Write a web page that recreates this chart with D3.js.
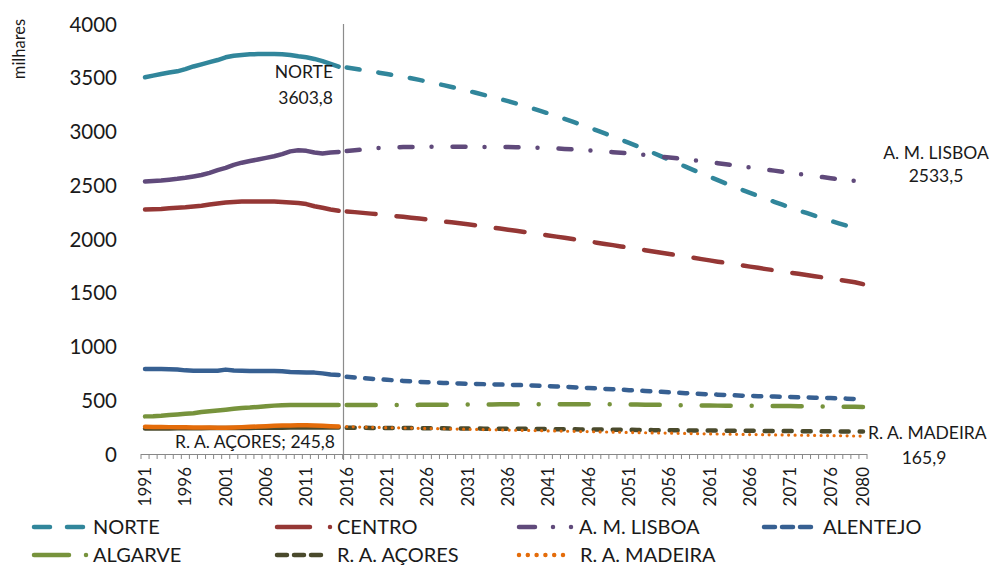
<!DOCTYPE html>
<html><head><meta charset="utf-8">
<script src="https://cdn.jsdelivr.net/npm/d3@7"></script>
<style>
html,body{margin:0;padding:0;background:#fff;}
svg text{font-family:Lato,"Open Sans",sans-serif;fill:#1a1a1a;}
</style></head>
<body><svg id="chart" width="994" height="566"></svg>
<script>
// ---- categories ----
const years = d3.range(1991, 2081);
const firstProjYear = 2016;
const yTicks = [0, 500, 1000, 1500, 2000, 2500, 3000, 3500, 4000];
const xTickLabels = [1991,1996,2001,2006,2011,2016,2021,2026,2031,2036,2041,2046,2051,2056,2061,2066,2071,2076,2080];

// ---- series values (thousands), 1991..2080 ----
const norte = [3505,3520,3535,3548,3560,3580,3605,3625,3645,3665,3690,3705,3712,3718,3720,3720,3720,3718,3712,3700,3690,3675,3655,3630,3603.8,
 3595,3583,3571,3559,3547,3535,3522,3509,3495,3480,3464,3448,3431,3414,3397,3379,3360,3341,3322,3302,3282,3260,3238,3215,3192,
 3168,3143,3118,3092,3065,3038,3010,2982,2953,2924,2894,2864,2833,2801,2769,2737,2705,2673,2641,2609,2578,2547,2517,2487,2458,
 2429,2401,2373,2346,2319,2293,2267,2242,2217,2193,2169,2146,2123,2101,2079];
const centro = [2275,2277,2280,2285,2290,2295,2302,2310,2320,2330,2340,2345,2348,2350,2350,2350,2348,2345,2340,2335,2325,2305,2290,2275,2262,
 2256,2250,2243,2236,2229,2222,2214,2206,2198,2190,2182,2173,2164,2155,2146,2137,2127,2117,2107,2097,2087,2076,2066,2055,2044,
 2033,2022,2011,2000,1989,1977,1966,1954,1943,1931,1919,1907,1896,1884,1872,1860,1848,1836,1825,1813,1801,1789,1778,1766,1755,
 1743,1732,1720,1709,1698,1687,1676,1665,1654,1643,1632,1621,1610,1598,1580];
const lisboa = [2535,2540,2545,2552,2560,2570,2582,2595,2615,2640,2662,2690,2710,2725,2740,2755,2770,2790,2815,2825,2820,2805,2795,2805,2810,
 2818,2825,2832,2840,2846,2850,2853,2855,2856,2857,2857,2857,2857,2857,2857,2857,2857,2856,2856,2855,2855,2854,2852,2850,2848,
 2845,2842,2838,2834,2830,2825,2820,2814,2808,2802,2795,2788,2781,2774,2766,2758,2750,2741,2732,2723,2714,2705,2695,2686,2676,
 2666,2656,2646,2636,2626,2616,2606,2596,2586,2576,2566,2557,2548,2540,2533.5];
const alentejo = [790,790,790,789,786,778,775,775,775,775,785,776,774,773,773,773,773,770,762,760,758,757,750,740,735,
 718,712,706,700,695,690,685,680,675,671,667,664,661,658,656,654,652,650,648,646,644,642,640,637,634,
 631,628,625,621,618,614,610,606,602,598,594,590,586,582,578,574,570,566,562,558,555,552,549,546,543,
 540,538,536,534,532,530,528,526,524,522,520,518,515,512,510];
const algarve = [350,352,356,362,368,374,380,390,398,405,412,420,428,432,438,444,450,454,456,456,456,456,455,455,455,
 455,455,455,455,455,455,455,456,456,457,457,458,458,459,459,460,460,461,461,462,462,462,463,463,463,
 463,463,463,463,463,463,462,462,462,461,461,460,459,458,457,456,455,454,453,452,451,450,450,449,449,
 448,448,447,447,446,446,445,445,444,443,442,441,440,439,438];
const acores = [238,238,238,238,239,239,240,240,241,241,242,242,243,243,244,244,245,245,246,247,247,247,247,246,245.8,
 245,244,244,243,243,242,242,241,241,240,240,239,239,238,238,237,237,236,236,235,235,234,234,233,233,
 232,231,230,230,229,228,228,227,226,225,225,224,223,222,222,221,220,220,219,219,218,218,217,217,216,
 216,215,215,214,214,213,213,212,212,211,211,210,210,209,209];
const madeira = [253,252,251,250,249,248,247,246,246,245,245,247,250,253,256,259,262,264,266,267,267,265,262,259,256,
 254,252,250,248,247,245,244,242,241,239,238,236,235,233,232,230,229,227,226,224,223,221,220,218,217,
 215,214,212,211,209,208,206,205,203,202,200,199,198,196,195,194,192,191,190,188,187,186,185,183,182,
 181,180,179,178,177,176,175,174,173,172,171,170,169,167,165.9];

const seriesNames = ["NORTE","CENTRO","A. M. LISBOA","ALENTEJO","ALGARVE","R. A. AÇORES","R. A. MADEIRA"];
const seriesValues = [norte, centro, lisboa, alentejo, algarve, acores, madeira];

// ---- styles ----
const colors = ["#31869b","#953735","#604a7b","#376092","#77933c","#4a4a2c","#e46c0a"];
const projDash = ["13,19","29,21","13,19,0,21","8,10.5","29,21,0,21","8,11","0,6.5"];
const projWidth = [4.5,4.5,4.5,4.5,4.5,4.5,3.2];
const legendDash = ["16,17","33,20,0,200","16,18,0,18,0,200","11,7","35,17,0,200","10,7","0,8.8"];

const svg = d3.select("#chart");
const x = d3.scalePoint().domain(years).range([141, 867]).padding(0.5);
const step = x.step();
const y = d3.scaleLinear().domain([0, 4000]).range([454, 24]);

// y tick labels
const yAxis = d3.axisLeft(y).tickValues(yTicks).tickSize(0).tickPadding(24).tickFormat(d3.format("d"));
const gy = svg.append("g").attr("transform","translate(141,0)").call(yAxis);
gy.select(".domain").remove();
gy.selectAll("text").style("font-family","Lato, sans-serif").style("font-size","20.5px").attr("fill","#1a1a1a").attr("dy","0.35em");

svg.append("text").attr("transform","translate(25,49) rotate(-90)").attr("text-anchor","middle")
  .style("font-size","16.5px").text("milhares");

// x axis line & ticks
svg.append("line").attr("x1",x(1991)-step/2).attr("x2",x(2080)+step/2).attr("y1",454.5).attr("y2",454.5)
  .attr("stroke","#888").attr("stroke-width",1);
svg.append("g").selectAll("line").data(years.concat([null])).join("line")
  .attr("x1", d => d===null ? x(2080)+step/2 : x(d)-step/2)
  .attr("x2", d => d===null ? x(2080)+step/2 : x(d)-step/2)
  .attr("y1",454).attr("y2",459).attr("stroke","#888").attr("stroke-width",1);
svg.append("g").selectAll("text").data(xTickLabels).join("text")
  .attr("transform", d => `translate(${x(d)},467) rotate(-90)`)
  .attr("text-anchor","end").attr("dy","0.35em").style("font-size","17px").text(d => d);

// separator line between observed and projected
const sepX = Math.round(x(firstProjYear) - step/2) + 0.5;
svg.append("line").attr("x1",sepX).attr("x2",sepX).attr("y1",y(4000)).attr("y2",460)
  .attr("stroke","#8c8c8c").attr("stroke-width",1.2);

// lines
const line = d3.line().x(d => x(d.year)).y(d => y(d.v));
seriesValues.forEach((vals, i) => {
  const pts = years.map((yr, j) => ({year: yr, v: vals[j]}));
  const hist = pts.filter(p => p.year < firstProjYear);
  const proj = pts.filter(p => p.year >= firstProjYear);
  svg.append("path").datum(hist).attr("d", line).attr("fill","none").attr("stroke",colors[i])
    .attr("stroke-width",4.5).attr("stroke-linecap","round").attr("stroke-linejoin","round");
  svg.append("path").datum(proj).attr("d", line).attr("fill","none").attr("stroke",colors[i])
    .attr("stroke-width",projWidth[i]).attr("stroke-linecap","round").attr("stroke-linejoin","round")
    .attr("stroke-dasharray",projDash[i]);
});

// annotations
const ann = svg.append("g").style("font-size","17.5px");
ann.append("text").attr("x",333).attr("y",78).attr("text-anchor","end").text("NORTE");
ann.append("text").attr("x",333).attr("y",104).attr("text-anchor","end").text("3603,8");
ann.append("text").attr("x",936).attr("y",159).attr("text-anchor","middle").text("A. M. LISBOA");
ann.append("text").attr("x",936).attr("y",182).attr("text-anchor","middle").text("2533,5");
ann.append("text").attr("x",335).attr("y",448).attr("text-anchor","end").text("R. A. AÇORES; 245,8");
ann.append("text").attr("x",868).attr("y",439).attr("text-anchor","start").text("R. A. MADEIRA");
ann.append("text").attr("x",924).attr("y",464).attr("text-anchor","middle").text("165,9");

// legend
const legX1 = [34,277,519,764,34,277,519];
const legX2 = [83,332,573,813,88,327,571];
const legTX = [93,337,579,823,93,337,580];
const legY  = [527,527,527,527,555,555,555];
const lg = svg.append("g");
seriesNames.forEach((name, i) => {
  lg.append("line").attr("x1",legX1[i]).attr("x2",legX2[i]).attr("y1",legY[i]).attr("y2",legY[i])
    .attr("stroke",colors[i]).attr("stroke-width",4.5).attr("stroke-linecap","round")
    .attr("stroke-dasharray",legendDash[i]);
  lg.append("text").attr("x",legTX[i]).attr("y",legY[i]).attr("dy","0.35em")
    .style("font-size","20px").text(name);
});
</script></body></html>
